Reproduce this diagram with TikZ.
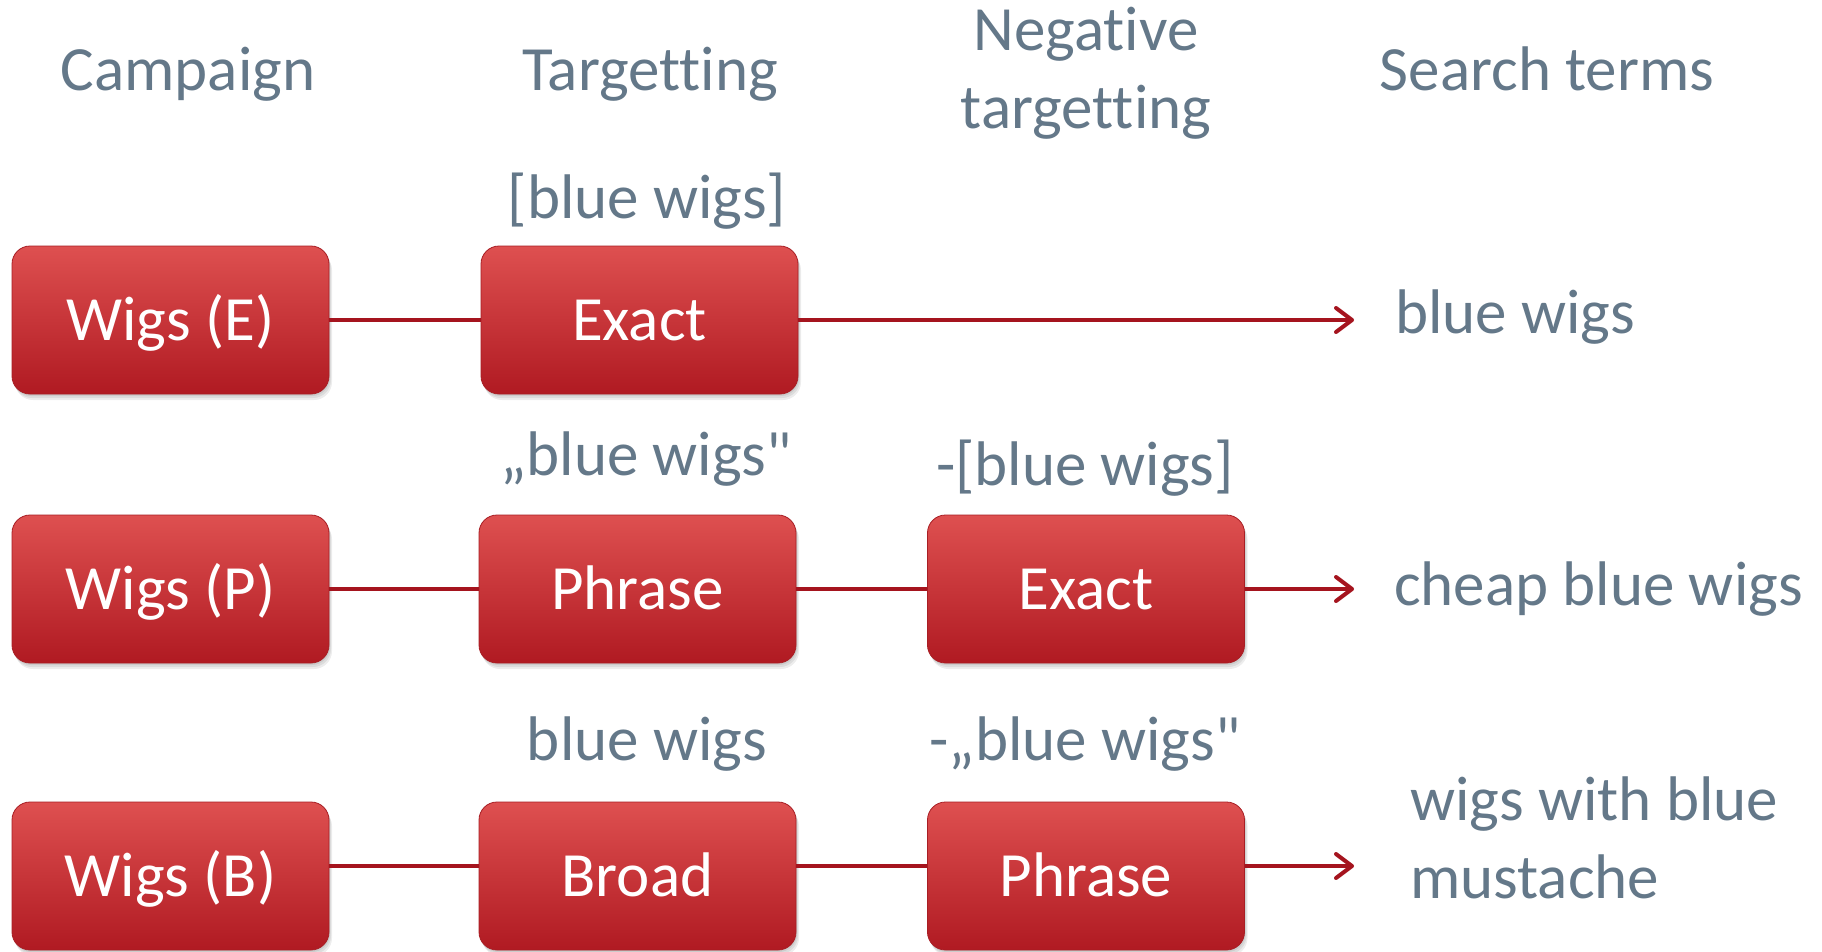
\documentclass[tikz,border=0pt]{standalone}
\usepackage{fontspec}
\setmainfont{Carlito}[Ligatures={TeXOff,NoCommon}]
\usetikzlibrary{shadows,arrows.meta}
\definecolor{txt}{RGB}{100,120,137}
\definecolor{boxtop}{RGB}{222,80,80}
\definecolor{boxmid}{RGB}{205,55,57}
\definecolor{boxbot}{RGB}{176,26,34}
\definecolor{boxedge}{RGB}{168,30,36}
\definecolor{conn}{RGB}{165,20,30}
\begin{document}
\begin{tikzpicture}[x=1pt,y=-1pt,
  every node/.style={font=\fontsize{63}{78}\selectfont},
  lbl/.style={text=txt, inner sep=0pt, anchor=base},
  stepbox/.style={rectangle, rounded corners=18pt, minimum width=317pt, minimum height=148pt,
    text height=41pt, text depth=0pt, inner sep=0pt, text=white,
    top color=boxtop, middle color=boxmid, bottom color=boxbot, draw=boxedge, line width=0.8pt,
    general shadow={fill=black, opacity=0.07, shadow xshift=1pt, shadow yshift=-2pt},
    general shadow={fill=black, opacity=0.07, shadow xshift=2pt, shadow yshift=-4pt},
    general shadow={fill=black, opacity=0.07, shadow xshift=3pt, shadow yshift=-6pt}},
  link/.style={draw=conn, line width=4pt},
  arr/.style={link, -{Straight Barb[length=16pt,width=24pt,round]}}
]
\useasboundingbox[fill=white] (0,0) rectangle (1822,951);

% headers
\node[lbl] (h1) at (188,90) {Campaign};
\node[lbl] (h2) at (650,90) {Targetting};
\node[lbl, align=center] (h3) at (1086,128) {Negative\\targetting};
\node[lbl] (h4) at (1547,90) {Search terms};

% boxes
\node[stepbox] (we) at (170.5,320) {Wigs (E)};
\node[stepbox] (te) at (639.5,320) {Exact};
\node[stepbox] (wp) at (170.5,589) {Wigs (P)};
\node[stepbox] (tp) at (637.5,589) {Phrase};
\node[stepbox] (np) at (1086,589) {Exact};
\node[stepbox] (wb) at (170.5,876) {Wigs (B)};
\node[stepbox] (tb) at (637.5,876) {Broad};
\node[stepbox] (nb) at (1086,876) {Phrase};

% labels above boxes
\node[lbl] (l1) at (647,218) {[blue wigs]};
\node[lbl] (l2) at (646,475) {„blue wigs"};
\node[lbl] (l3) at (1085,485) {-[blue wigs]};
\node[lbl] (l4) at (647,760) {blue wigs};
\node[lbl] (l5) at (1085,760) {-„blue wigs"};

% search terms
\node[lbl, anchor=base west] (s1) at (1395,333) {blue wigs};
\node[lbl, anchor=base west] (s2) at (1394,605) {cheap blue wigs};
\node[lbl, anchor=base west, align=left] (s3) at (1410,898) {wigs with blue\\mustache};

% connectors
\coordinate (e1) at (1354,320);
\coordinate (e2) at (1354,589);
\coordinate (e3) at (1354,866);
\draw[link] (we) -- (te);
\draw[arr] (te) -- (e1);
\draw[link] (wp) -- (tp);
\draw[link] (tp) -- (np);
\draw[arr] (np) -- (e2);
\draw[link] ([yshift=10pt]wb.east) -- ([yshift=10pt]tb.west);
\draw[link] ([yshift=10pt]tb.east) -- ([yshift=10pt]nb.west);
\draw[arr] ([yshift=10pt]nb.east) -- (e3);
\end{tikzpicture}
\end{document}
